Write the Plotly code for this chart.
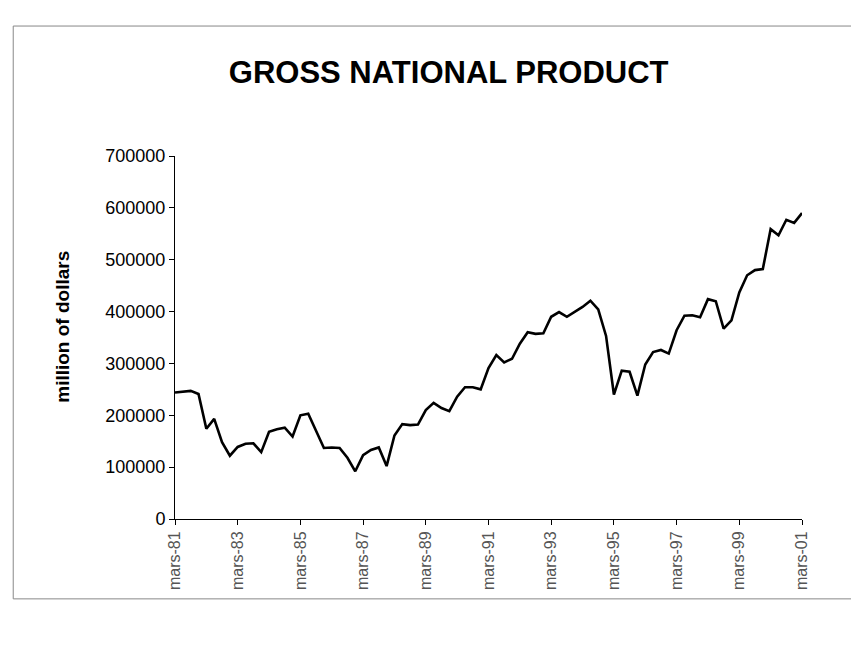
import plotly.graph_objects as go

# Quarterly observations, March 1981 .. March 2001 (81 quarters)
quarter_index = list(range(81))
gnp_values = [
    244000, 246000, 247000, 241000, 174000, 193000, 148000, 122000,
    139000, 145000, 146000, 129000, 168000, 173000, 176000, 159000,
    200000, 203000, 169000, 137000, 138000, 137000, 118000, 92000,
    123000, 133000, 138000, 102000, 161000, 183000, 181000, 182000,
    210000, 224000, 214000, 208000, 236000, 254000, 254000, 250000,
    291000, 316000, 302000, 309000, 338000, 360000, 357000, 358000,
    390000, 399000, 390000, 400000, 409000, 421000, 404000, 353000,
    240000, 286000, 284000, 238000, 298000, 322000, 326000, 319000,
    364000, 392000, 393000, 389000, 424000, 420000, 367000, 383000,
    437000, 470000, 480000, 482000, 559000, 547000, 577000, 571000,
    590000,
]
tick_positions = [0, 8, 16, 24, 32, 40, 48, 56, 64, 72, 80]
tick_labels = ["mars-81", "mars-83", "mars-85", "mars-87", "mars-89", "mars-91",
               "mars-93", "mars-95", "mars-97", "mars-99", "mars-01"]
y_ticks = [0, 100000, 200000, 300000, 400000, 500000, 600000, 700000]
y_tick_labels = [str(v) for v in y_ticks]

FONT = "Liberation Sans, Arial, sans-serif"

fig = go.Figure()
fig.add_trace(go.Scatter(
    x=quarter_index, y=gnp_values, mode="lines",
    line=dict(color="#000000", width=2.6),
    hoverinfo="skip", showlegend=False,
))

fig.update_layout(
    width=859, height=654,
    paper_bgcolor="white", plot_bgcolor="white",
    margin=dict(l=167, r=65, t=148, b=143),
    title=dict(text="<b>GROSS NATIONAL PRODUCT</b>", x=0.513, xanchor="center",
               y=0.902, yanchor="middle",
               font=dict(family=FONT, size=31, color="#000000")),
    showlegend=False,
)

fig.update_xaxes(
    range=[0, 80], tickmode="array", tickvals=tick_positions, ticktext=tick_labels,
    tickangle=-90, ticks="outside", ticklen=5, tickcolor="#000000",
    showline=True, linecolor="#000000", linewidth=1, showgrid=False, zeroline=False,
    tickfont=dict(family=FONT, size=16, color="#555555"),
)
fig.update_yaxes(
    range=[0, 700000], tickmode="array", tickvals=y_ticks, ticktext=y_tick_labels,
    ticks="outside", ticklen=5, tickcolor="#000000",
    showline=True, linecolor="#000000", linewidth=1, showgrid=False, zeroline=False,
    tickfont=dict(family=FONT, size=18, color="#000000"),
)

fig.add_annotation(
    text="<b>million of dollars</b>", textangle=-90,
    xref="paper", yref="paper", x=-0.18, y=0.53,
    xanchor="center", yanchor="middle", showarrow=False,
    font=dict(family=FONT, size=19, color="#000000"),
)

# chart-area border (left, top, bottom edges as in the scan)
border = dict(color="#888888", width=1)
fig.add_shape(type="line", xref="paper", yref="paper",
              x0=-0.258, y0=-0.22, x1=-0.258, y1=1.358, line=border)
fig.add_shape(type="line", xref="paper", yref="paper",
              x0=-0.258, y0=1.358, x1=1.086, y1=1.358, line=border)
fig.add_shape(type="line", xref="paper", yref="paper",
              x0=-0.258, y0=-0.22, x1=1.086, y1=-0.22, line=border)

fig.write_html("out.html")
